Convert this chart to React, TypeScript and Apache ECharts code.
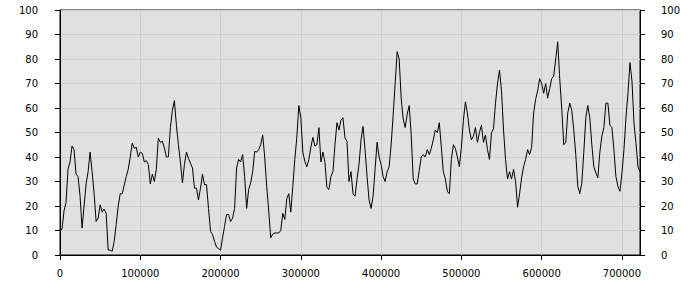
import React, { useEffect, useRef } from "react";
import * as echarts from "echarts";

// x step between samples (data units)
const xStep = 2500;
const xMax = 722500;
const xTicks = [0, 100000, 200000, 300000, 400000, 500000, 600000, 700000];
const yTicks = [0, 10, 20, 30, 40, 50, 60, 70, 80, 90, 100];

const values1 = [
  10, 10.5, 18, 21.5, 35, 38, 44.5, 43, 33, 32,
  24, 11, 20, 29, 34, 42, 34, 25, 13.7, 15,
  20.5, 17.5, 18.7, 17, 2, 2, 1.5, 5.5, 12.5, 20,
  25, 25, 28.5, 32, 35, 40, 45.7, 43.5, 44, 40,
  42, 41.5, 38, 38.5, 37, 29, 33, 30, 35,
];
const values2 = [
  47.7, 46, 46.4, 43.7, 40, 40, 52, 59, 63, 53,
  45, 38, 29.4, 37, 42, 39.5, 37.5, 35.5, 27.3, 27.3,
  22.5, 27.3, 33, 28.7, 28.7, 19, 9.7, 8.3, 5.6, 3.2,
  2.6, 2, 7, 11.7, 16.5, 16.5, 13.7, 15, 19, 35.5,
  39, 38, 41, 32, 19, 26.7, 29.4, 34, 42.3,
];
const values3 = [
  42, 43, 45, 49, 40, 28, 18, 7, 8.5, 9,
  9, 9, 10, 17, 14.5, 23, 25, 17.5, 28, 39,
  48, 61, 56, 42, 38.2, 36, 39, 44, 48, 44.5,
  45, 52, 38, 42, 38, 27.5, 26.7, 32, 34, 45,
  54, 51, 55, 56, 47.8, 46.4, 30, 34,
];
const values4 = [
  25, 24, 31, 37, 47, 52.5, 43, 32, 22.5, 19,
  24, 35, 46, 40, 37, 32, 30, 34, 36, 45,
  57, 70, 83, 80, 64, 55.5, 52, 57.5, 61, 49,
  31, 29, 29, 34.5, 40, 41, 40, 43, 41, 43.5,
  47, 51, 50, 54, 44, 34, 31, 26,
];
const values5 = [
  25, 39, 45, 43.5, 40, 36, 44, 55, 62.5, 58,
  51, 47, 48.5, 52, 46, 50, 53, 46, 49, 43,
  39, 50, 51.5, 62, 70, 75.5, 67, 51, 39, 31,
  34, 31, 35, 30, 19.5, 25, 31.5, 36, 39, 43,
  41, 44, 58, 63.5, 67, 72, 70, 66, 70,
];
const values6 = [
  64, 68, 72, 73, 80, 87, 72, 60, 45, 46,
  58, 62, 59, 51, 41, 28, 25, 29.4, 42, 56,
  61, 56, 45, 36, 33.5, 31.5, 42, 48.5, 52, 62,
  62, 53, 52, 43, 32, 28, 26, 33.5, 43, 56,
  66, 78.5, 71, 54, 45.5, 36, 34,
];

const values = [...values1, ...values2, ...values3, ...values4, ...values5, ...values6];
const seriesData = values.map((v, i) => [i * xStep, v]);

const FONT = "DejaVu Sans";

export default function App() {
  const ref = useRef<HTMLDivElement>(null);
  useEffect(() => {
    if (!ref.current) return;
    const chart = echarts.init(ref.current, null, { renderer: "svg" });
    const labelStyle = { color: "#000", fontSize: 10, fontFamily: FONT };
    chart.setOption({
      animation: false,
      backgroundColor: "#fff",
      grid: {
        left: 60,
        right: 60,
        top: 10,
        bottom: 45,
        show: true,
        backgroundColor: "#e0e0e0",
        borderColor: "#000",
        borderWidth: 1,
      },
      xAxis: {
        type: "value",
        min: xTicks[0],
        max: xMax,
        interval: 100000,
        axisLine: { show: true, lineStyle: { color: "#000", width: 1 } },
        axisTick: { show: true, length: 5, lineStyle: { color: "#000" } },
        axisLabel: { ...labelStyle, margin: 13, showMaxLabel: false, formatter: (v: number) => (xTicks.includes(v) ? String(v) : "") },
        splitLine: { show: true, lineStyle: { color: "#cecece", width: 1 } },
      },
      yAxis: [
        {
          type: "value",
          min: yTicks[0],
          max: yTicks[yTicks.length - 1],
          interval: 10,
          position: "left",
          axisLine: { show: true, lineStyle: { color: "#000", width: 1 } },
          axisTick: { show: true, length: 5, lineStyle: { color: "#000" } },
          axisLabel: { ...labelStyle, margin: 22 },
          splitLine: { show: true, lineStyle: { color: "#cecece", width: 1 } },
        },
        {
          type: "value",
          min: yTicks[0],
          max: yTicks[yTicks.length - 1],
          interval: 10,
          position: "right",
          axisLine: { show: true, lineStyle: { color: "#000", width: 1 } },
          axisTick: { show: true, length: 5, lineStyle: { color: "#000" } },
          axisLabel: { ...labelStyle, margin: 21 },
          splitLine: { show: false },
        },
      ],
      series: [
        {
          type: "line",
          data: seriesData,
          yAxisIndex: 0,
          showSymbol: false,
          symbol: "none",
          lineStyle: { color: "#000", width: 1 },
          silent: true,
        },
      ],
    });
    return () => chart.dispose();
  }, []);
  return (
    <div
      ref={ref}
      style={{ position: "absolute", left: 0, top: 0, width: 700, height: 300 }}
    />
  );
}
